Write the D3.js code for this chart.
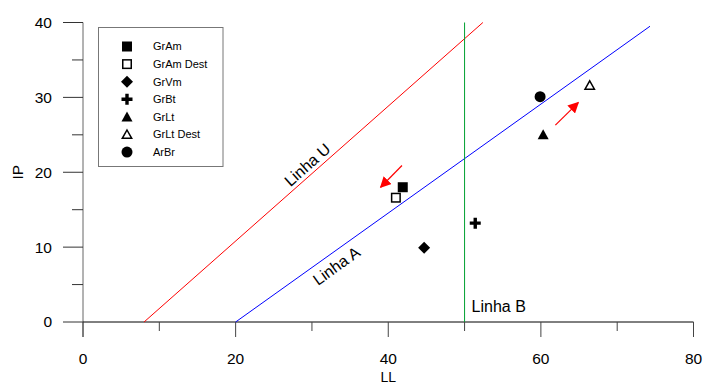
<!DOCTYPE html>
<html><head><meta charset="utf-8">
<script src="https://cdn.jsdelivr.net/npm/d3@7"></script>
<style>body{margin:0;background:#fff}svg{display:block}text{font-family:Arial,"Liberation Sans",sans-serif}</style>
</head><body>
<svg id="c" width="704" height="385"></svg>
<script>
// Data
const seriesNames = ["GrAm","GrAm Dest","GrVm","GrBt","GrLt","GrLt Dest","ArBr"];
const seriesShapes = ["square","squareOpen","diamond","plus","triangle","triangleOpen","circle"];
const pointLL = [41.9, 41.0, 44.7, 51.4, 60.3, 66.4, 59.9];
const pointIP = [18.0, 16.6, 9.9, 13.2, 25.0, 31.6, 30.1];
const lineNames = ["Linha U","Linha A","Linha B"];
const lineColors = ["#ff0000","#0000ff","#00a030"];
const lineLL = [[8, 52.4],[20, 74.3],[50, 50]];
const lineIP = [[0, 40],[0, 39.5],[0, 40]];
const arrowFromLL = [41.8, 61.9], arrowFromIP = [20.9, 26.3];
const arrowToLL = [39.0, 64.9], arrowToIP = [18.0, 29.3];
const xTicks = [0,20,40,60,80], xMinor = [10,30,50,70];
const yTicks = [0,10,20,30,40], yMinor = [5,15,25,35];

const svg = d3.select("#c");
const x = d3.scaleLinear().domain([0,80]).range([83,693.5]);
const y = d3.scaleLinear().domain([0,40]).range([322,22.5]);

// arrow marker
svg.append("defs").append("marker").attr("id","ah").attr("viewBox","0 0 10 10")
  .attr("refX",9).attr("refY",5).attr("markerWidth",11).attr("markerHeight",11)
  .attr("markerUnits","userSpaceOnUse").attr("orient","auto")
  .append("path").attr("d","M0,0 L10,5 L0,10 z").attr("fill","#ff0000");

const tickFont = 15.5;
// Y axis
const ya = svg.append("g");
ya.append("line").attr("x1",x(0)).attr("x2",x(0)).attr("y1",y(40)).attr("y2",y(0)+15).attr("stroke","#666");
yTicks.forEach(t=>{
  ya.append("line").attr("x1",x(0)-20).attr("x2",x(0)).attr("y1",y(t)).attr("y2",y(t)).attr("stroke","#333");
  ya.append("text").attr("x",x(0)-31).attr("y",y(t)).attr("dy","0.35em").attr("text-anchor","end").attr("font-size",tickFont).text(t);
});
yMinor.forEach(t=>{
  ya.append("line").attr("x1",x(0)-11).attr("x2",x(0)).attr("y1",y(t)).attr("y2",y(t)).attr("stroke","#333");
});
ya.append("text").attr("transform",`translate(18,${y(20)}) rotate(-90)`).attr("text-anchor","middle").attr("dy","0.35em").attr("font-size",tickFont).text("IP");

// X axis
const xa = svg.append("g");
xa.append("line").attr("x1",x(0)).attr("x2",x(80)).attr("y1",y(0)).attr("y2",y(0)).attr("stroke","#000");
xTicks.forEach(t=>{
  xa.append("line").attr("x1",x(t)).attr("x2",x(t)).attr("y1",y(0)).attr("y2",y(0)+15).attr("stroke","#444");
  xa.append("text").attr("x",x(t)).attr("y",y(0)+42).attr("text-anchor","middle").attr("font-size",tickFont).text(t);
});
xMinor.forEach(t=>{
  xa.append("line").attr("x1",x(t)).attr("x2",x(t)).attr("y1",y(0)).attr("y2",y(0)+9).attr("stroke","#444");
});
xa.append("text").attr("x",x(40)).attr("y",y(0)+59.5).attr("text-anchor","middle").attr("font-size",14).text("LL");

// Lines
lineNames.forEach((n,i)=>{
  svg.append("line").attr("x1",x(lineLL[i][0])).attr("x2",x(lineLL[i][1]))
    .attr("y1",y(lineIP[i][0])).attr("y2",y(lineIP[i][1])).attr("stroke",lineColors[i]).attr("stroke-width",1);
});
// line labels
function ang(i){const dx=x(lineLL[i][1])-x(lineLL[i][0]),dy=y(lineIP[i][1])-y(lineIP[i][0]);return Math.atan2(dy,dx)*180/Math.PI;}
svg.append("text").attr("transform",`translate(${x(29.4)},${y(21.0)}) rotate(${ang(0)})`).attr("text-anchor","middle").attr("dy","0.35em").attr("font-size",16).text(lineNames[0]);
svg.append("text").attr("transform",`translate(${x(33.2)},${y(7.5)}) rotate(${ang(1)})`).attr("text-anchor","middle").attr("dy","0.35em").attr("font-size",16).text(lineNames[1]);
svg.append("text").attr("x",x(50)+7).attr("y",y(2.05)).attr("dy","0.35em").attr("font-size",16).text(lineNames[2]);

// arrows
arrowFromLL.forEach((v,i)=>{
  svg.append("line").attr("x1",x(v)).attr("y1",y(arrowFromIP[i])).attr("x2",x(arrowToLL[i])).attr("y2",y(arrowToIP[i]))
    .attr("stroke","#ff0000").attr("stroke-width",1.2).attr("marker-end","url(#ah)");
});

// symbols
function drawSym(g,shape,cx,cy){
  const s=10;
  switch(shape){
    case "square": g.append("rect").attr("x",cx-s/2).attr("y",cy-s/2).attr("width",s).attr("height",s).attr("fill","#000"); break;
    case "squareOpen": g.append("rect").attr("x",cx-s/2+0.75).attr("y",cy-s/2+0.75).attr("width",s-1.5).attr("height",s-1.5).attr("fill","#fff").attr("stroke","#000").attr("stroke-width",1.5); break;
    case "diamond": g.append("path").attr("d",`M${cx},${cy-6}L${cx+6},${cy}L${cx},${cy+6}L${cx-6},${cy}Z`).attr("fill","#000"); break;
    case "plus": g.append("path").attr("d",`M${cx-1.7},${cy-5.5}h3.4v3.8h3.8v3.4h-3.8v3.8h-3.4v-3.8h-3.8v-3.4h3.8z`).attr("fill","#000"); break;
    case "triangle": g.append("path").attr("d",`M${cx},${cy-5.5}L${cx+5.5},${cy+4.5}L${cx-5.5},${cy+4.5}Z`).attr("fill","#000"); break;
    case "triangleOpen": g.append("path").attr("d",`M${cx},${cy-4.5}L${cx+4.7},${cy+3.8}L${cx-4.7},${cy+3.8}Z`).attr("fill","#fff").attr("stroke","#000").attr("stroke-width",1.5); break;
    case "circle": g.append("circle").attr("cx",cx).attr("cy",cy).attr("r",5.5).attr("fill","#000"); break;
  }
}
const pg = svg.append("g");
seriesNames.forEach((n,i)=>drawSym(pg,seriesShapes[i],x(pointLL[i]),y(pointIP[i])));

// legend
const lg = svg.append("g");
lg.append("rect").attr("x",98.5).attr("y",27.5).attr("width",124.5).attr("height",139).attr("fill","#fff").attr("stroke","#777").attr("stroke-width",1);
seriesNames.forEach((n,i)=>{
  const cy = 46.5 + i*17.6;
  drawSym(lg,seriesShapes[i],127,cy);
  lg.append("text").attr("x",153).attr("y",cy).attr("dy","0.35em").attr("font-size",11).text(n);
});
</script>
</body></html>
